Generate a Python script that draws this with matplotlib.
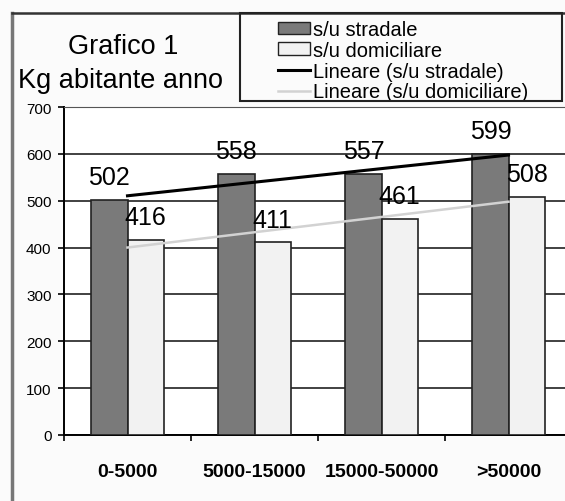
import numpy as np
import matplotlib
matplotlib.use("Agg")
import matplotlib.pyplot as plt
from matplotlib.patches import Rectangle, Patch
from matplotlib.lines import Line2D

plt.rcParams['font.family'] = ['Liberation Sans', 'DejaVu Sans']

categories = ['0-5000', '5000-15000', '15000-50000', '>50000']
stradale = [502, 558, 557, 599]
domiciliare = [416, 411, 461, 508]
y_ticks = [0, 100, 200, 300, 400, 500, 600, 700]

W, H = 565, 502
dark = '#7a7a7a'
light = '#f2f2f2'

fig = plt.figure(figsize=(W / 100, H / 100), dpi=100)
fig.patch.set_facecolor('#fbfbfb')

# plot area (right edge runs past the picture, as in the scan)
ax = fig.add_axes([64 / W, 1 - 436 / H, (572 - 64) / W, (436 - 108) / H])
ax.set_facecolor('white')

x = np.arange(len(categories))
bw = 0.285
b1 = ax.bar(x - bw / 2, stradale, bw, color=dark, edgecolor='#222222', linewidth=1.2, zorder=3)
b2 = ax.bar(x + bw / 2, domiciliare, bw, color=light, edgecolor='#222222', linewidth=1.2, zorder=3)

# linear trend lines
p1 = np.polyfit(x, stradale, 1)
p2 = np.polyfit(x, domiciliare, 1)
xe = np.array([x[0], x[-1]])
ax.plot(xe, np.polyval(p1, xe), color='black', lw=2.2, zorder=4)
ax.plot(xe, np.polyval(p2, xe), color='#d2d2d2', lw=1.8, zorder=4)

for xi, v in zip(x - bw / 2, stradale):
    ax.annotate(str(v), (xi, v), xytext=(0, 16.5), textcoords='offset points',
                ha='center', va='center', fontsize=18, zorder=5)
for xi, v in zip(x + bw / 2, domiciliare):
    ax.annotate(str(v), (xi, v), xytext=(0, 16.5), textcoords='offset points',
                ha='center', va='center', fontsize=18, zorder=5)

ax.set_xlim(-0.5, 3.5)
ax.set_ylim(0, 700)
ax.set_yticks(y_ticks)
ax.set_yticklabels([str(t) for t in y_ticks], fontsize=11)
ax.set_xticks(x)
ax.set_xticklabels(categories, fontsize=14, fontweight='bold')
ax.set_xticks(np.arange(-0.5, 3.6, 1), minor=True)
ax.tick_params(axis='x', which='major', length=0, pad=20)
ax.tick_params(axis='x', which='minor', length=4, width=1.2, direction='out')
ax.tick_params(axis='y', length=4, width=1.2, direction='out', pad=5)
ax.grid(axis='y', color='#333333', lw=1.3, zorder=0)
ax.set_axisbelow(True)
for s in ['left', 'bottom']:
    ax.spines[s].set_color('black')
    ax.spines[s].set_linewidth(1.4)
ax.spines['top'].set_color('#555555')
ax.spines['right'].set_visible(False)

# outer frame of the chart
fig.add_artist(Line2D([12 / W, 12 / W], [0, 1 - 14 / H], transform=fig.transFigure,
                      color='#777777', lw=2.5))
fig.add_artist(Line2D([12 / W, 1], [1 - 14 / H, 1 - 14 / H], transform=fig.transFigure,
                      color='#333333', lw=1.8))

# title
fig.text(123 / W, 1 - 47 / H, 'Grafico 1', ha='center', va='center', fontsize=19.5)
fig.text(120 / W, 1 - 81 / H, 'Kg abitante anno', ha='center', va='center', fontsize=19.5)

# legend
handles = [Patch(facecolor=dark, edgecolor='#222222'),
           Patch(facecolor=light, edgecolor='#222222'),
           Line2D([], [], color='black', lw=2.2),
           Line2D([], [], color='#d2d2d2', lw=1.8)]
labels = ['s/u stradale', 's/u domiciliare', 'Lineare (s/u stradale)', 'Lineare (s/u domiciliare)']
leg = fig.legend(handles, labels, loc='upper left', bbox_to_anchor=(278 / W, 1 - 21 / H),
                 frameon=False, fontsize=14.5, handlelength=1.6, handleheight=0.6,
                 handletextpad=0.15, labelspacing=0.09, borderpad=0, borderaxespad=0)

# hide the part of the last legend row that falls outside the box
fig.add_artist(Rectangle((240 / W, 1 - 107 / H), (562 - 240) / W, 5 / H,
                         transform=fig.transFigure, facecolor='#fbfbfb',
                         edgecolor='none', zorder=6))
fig.add_artist(Rectangle((240 / W, 1 - 102 / H), (562 - 240) / W, (102 - 14) / H,
                         transform=fig.transFigure, facecolor='none',
                         edgecolor='#222222', lw=1.5, zorder=7))

fig.savefig('out.png', dpi=100, facecolor=fig.get_facecolor())
